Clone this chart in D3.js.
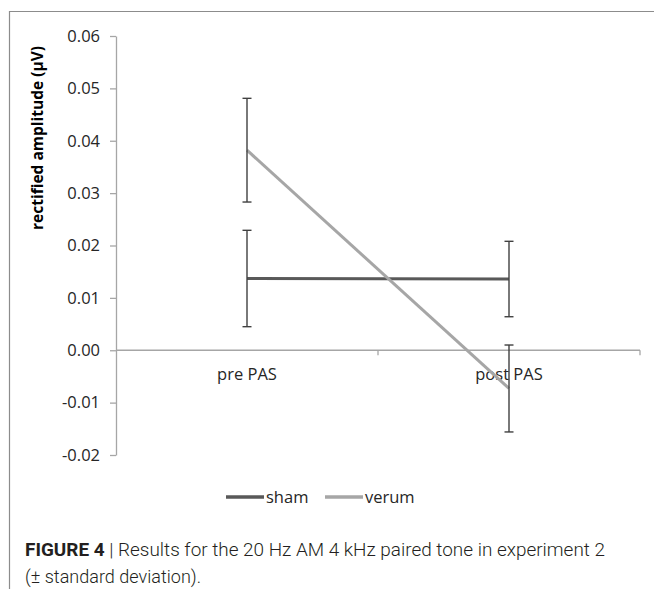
<!DOCTYPE html>
<html>
<head>
<meta charset="utf-8">
<script src="https://cdn.jsdelivr.net/npm/d3@7"></script>
<style>
  body { margin: 0; background: #fff; }
  svg { display: block; }
</style>
</head>
<body>
<div id="chart"></div>
<script>
// data
const categories = ['pre PAS', 'post PAS']
const seriesNames = ['sham', 'verum']
const shamMean = [0.0137, 0.0136]
const shamSD = [0.0092, 0.0072]
const verumMean = [0.0382, -0.0073]
const verumSD = [0.0099, 0.0083]
const yTicks = [-0.02, -0.01, 0.00, 0.01, 0.02, 0.03, 0.04, 0.05, 0.06]

const colors = { sham: '#595959', verum: '#a6a6a6' }
const width = 654, height = 589

const svg = d3.select('#chart').append('svg')
  .attr('width', width)
  .attr('height', height)

// outer frame (top + left only)
svg.append('path')
  .attr('d', `M9.5,${height} V11.5 H${width}`)
  .attr('fill', 'none')
  .attr('stroke', '#8c8c8c')
  .attr('stroke-width', 1.2)

const x = d3.scaleBand().domain(categories).range([116, 640]).padding(0)
const y = d3.scaleLinear().domain([-0.02, 0.06]).range([455, 36])

const font = '"Open Sans", sans-serif'

// y axis
const yAxis = svg.append('g')
  .attr('transform', `translate(${x.range()[0]},0)`)
  .call(d3.axisLeft(y).tickValues(yTicks).tickFormat(d3.format('.2f')).tickSize(6).tickSizeOuter(0))
yAxis.select('.domain').attr('stroke', '#a6a6a6').attr('stroke-width', 1.3)
yAxis.selectAll('.tick line').attr('stroke', '#a6a6a6').attr('stroke-width', 1.3)
yAxis.selectAll('.tick text')
  .attr('x', -16)
  .attr('fill', '#262626')
  .attr('font-family', font)
  .attr('font-size', '16.5px')
  .text(d => d.toFixed(2))

// x axis at zero
const xAxis = svg.append('g')
  .attr('transform', `translate(0,${y(0)})`)
xAxis.append('line')
  .attr('x1', x.range()[0]).attr('x2', x.range()[1])
  .attr('stroke', '#a6a6a6').attr('stroke-width', 1.3)
xAxis.selectAll('line.tick')
  .data(categories)
  .join('line')
  .attr('class', 'tick')
  .attr('x1', d => x(d) + x.bandwidth())
  .attr('x2', d => x(d) + x.bandwidth())
  .attr('y1', 0).attr('y2', 5)
  .attr('stroke', '#a6a6a6').attr('stroke-width', 1.3)
xAxis.selectAll('text')
  .data(categories)
  .join('text')
  .attr('x', d => x(d) + x.bandwidth() / 2)
  .attr('y', 30)
  .attr('text-anchor', 'middle')
  .attr('fill', '#262626')
  .attr('font-family', font)
  .attr('font-size', '16.5px')
  .text(d => d)

// y axis title
svg.append('text')
  .attr('transform', `translate(43,138) rotate(-90)`)
  .attr('text-anchor', 'middle')
  .attr('fill', '#000')
  .attr('font-family', font)
  .attr('font-weight', 'bold')
  .attr('font-size', '15.5px')
  .text('rectified amplitude (μV)')

const series = [
  { name: 'sham', mean: shamMean, sd: shamSD },
  { name: 'verum', mean: verumMean, sd: verumSD }
]

const cx = c => x(c) + x.bandwidth() / 2
const line = d3.line().x(d => cx(d.cat)).y(d => y(d.v))

series.forEach(s => {
  const pts = categories.map((c, i) => ({ cat: c, v: s.mean[i], sd: s.sd[i] }))

  // lines
  svg.append('path')
    .datum(pts)
    .attr('d', line)
    .attr('fill', 'none')
    .attr('stroke', colors[s.name])
    .attr('stroke-width', 3)

  // error bars
  const eb = svg.append('g').attr('stroke', '#404040').attr('stroke-width', 1.4)
  pts.forEach(p => {
    const x0 = cx(p.cat)
    eb.append('line').attr('x1', x0).attr('x2', x0).attr('y1', y(p.v + p.sd)).attr('y2', y(p.v - p.sd))
    eb.append('line').attr('x1', x0 - 4.5).attr('x2', x0 + 4.5).attr('y1', y(p.v + p.sd)).attr('y2', y(p.v + p.sd))
    eb.append('line').attr('x1', x0 - 4.5).attr('x2', x0 + 4.5).attr('y1', y(p.v - p.sd)).attr('y2', y(p.v - p.sd))
  })
})

// legend
const legend = svg.append('g').attr('transform', 'translate(226,497)')
const legendX = [0, 99]
seriesNames.forEach((n, i) => {
  const g = legend.append('g').attr('transform', `translate(${legendX[i]},0)`)
  g.append('line')
    .attr('x1', 0).attr('x2', 38)
    .attr('stroke', colors[n]).attr('stroke-width', 3.5)
  g.append('text')
    .attr('x', 40)
    .attr('y', 6)
    .attr('fill', '#262626')
    .attr('font-family', font)
    .attr('font-size', '16.5px')
    .text(n)
})

// caption
const cap = svg.append('g')
  .attr('fill', '#231f20')
  .attr('font-family', 'Roboto, sans-serif')
  .attr('font-size', '17.5px')
const l1 = cap.append('text')
  .attr('x', 25).attr('y', 556)
  .attr('textLength', 580)
  .attr('lengthAdjust', 'spacingAndGlyphs')
l1.append('tspan').attr('font-weight', 'bold').text('FIGURE 4')
l1.append('tspan').attr('font-weight', 300).text(' | Results for the 20 Hz AM 4 kHz paired tone in experiment 2')
cap.append('text')
  .attr('x', 25).attr('y', 583)
  .attr('font-weight', 300)
  .attr('textLength', 176)
  .attr('lengthAdjust', 'spacingAndGlyphs')
  .text('(± standard deviation).')
</script>
</body>
</html>
